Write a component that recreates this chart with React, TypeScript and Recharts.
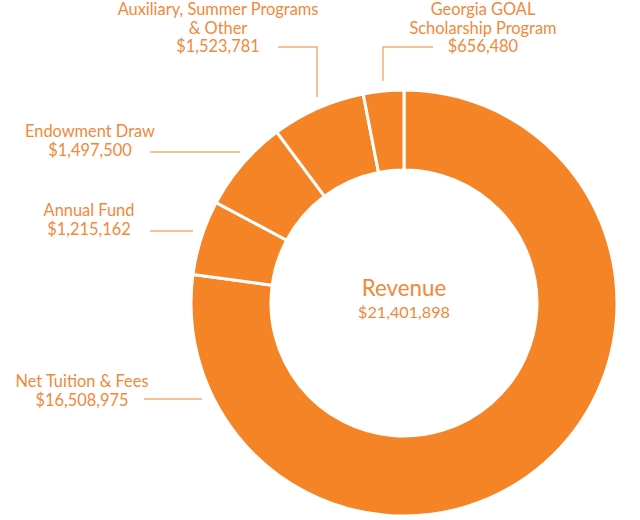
import React from "react";
import { PieChart, Pie, Cell, Customized } from "recharts";

const categories = [
  "Net Tuition & Fees",
  "Annual Fund",
  "Endowment Draw",
  "Auxiliary, Summer Programs & Other",
  "Georgia GOAL Scholarship Program",
];
const values = [16508975, 1215162, 1497500, 1523781, 656480];
const labelLines = [
  ["Net Tuition & Fees", "$16,508,975"],
  ["Annual Fund", "$1,215,162"],
  ["Endowment Draw", "$1,497,500"],
  ["Auxiliary, Summer Programs", "& Other", "$1,523,781"],
  ["Georgia GOAL", "Scholarship Program", "$656,480"],
];
const centerTitle = "Revenue";
const centerValue = "$21,401,898";

const data = categories.map((name, i) => ({ name, value: values[i] }));

// layout (annotation positions, not data)
const labelLayout = [
  { x: 82, y: 387, line: "M144,399 L202,399" },
  { x: 89, y: 216, line: "M150,231 L193,231" },
  { x: 90, y: 137, line: "M150,152 L240,152" },
  { x: 218, y: 15, line: "M278,47 L317,47 L317,97" },
  { x: 483, y: 15, line: "M433,47 L383,47 L383,81" },
];

const ORANGE = "#F58426";
const TEXT = "#F2883A";
const LINE = "#F6AE74";
const FONT = "Lato, 'Open Sans', sans-serif";

const Labels = () => (
  <g>
    {labelLayout.map((l, i) => (
      <g key={i}>
        <path d={l.line} stroke={LINE} strokeWidth={1.5} fill="none" />
        {labelLines[i].map((t, j) => (
          <text
            key={j}
            x={l.x}
            y={l.y + j * 18.5}
            textAnchor="middle"
            fill={TEXT}
            fontFamily={FONT}
            fontSize={16.4}
          >
            {t}
          </text>
        ))}
      </g>
    ))}
    <text x={404} y={296} textAnchor="middle" fill={TEXT} fontFamily={FONT} fontSize={22.3}>
      {centerTitle}
    </text>
    <text x={404} y={318} textAnchor="middle" fill={TEXT} fontFamily={FONT} fontSize={16.2}>
      {centerValue}
    </text>
  </g>
);

export default function App() {
  return (
    <div style={{ position: "absolute", left: 0, top: 0, width: 640, height: 520, background: "#fff" }}>
      <PieChart width={640} height={520} margin={{ top: 0, right: 0, bottom: 0, left: 0 }}>
        <Pie
          data={data}
          dataKey="value"
          nameKey="name"
          cx={404}
          cy={303}
          innerRadius={133}
          outerRadius={213}
          startAngle={90}
          endAngle={-270}
          stroke="#ffffff"
          strokeWidth={3}
          isAnimationActive={false}
          labelLine={false}
          label={false}
        >
          {data.map((d, i) => (
            <Cell key={i} fill={ORANGE} />
          ))}
        </Pie>
        <Customized component={Labels} />
      </PieChart>
    </div>
  );
}
